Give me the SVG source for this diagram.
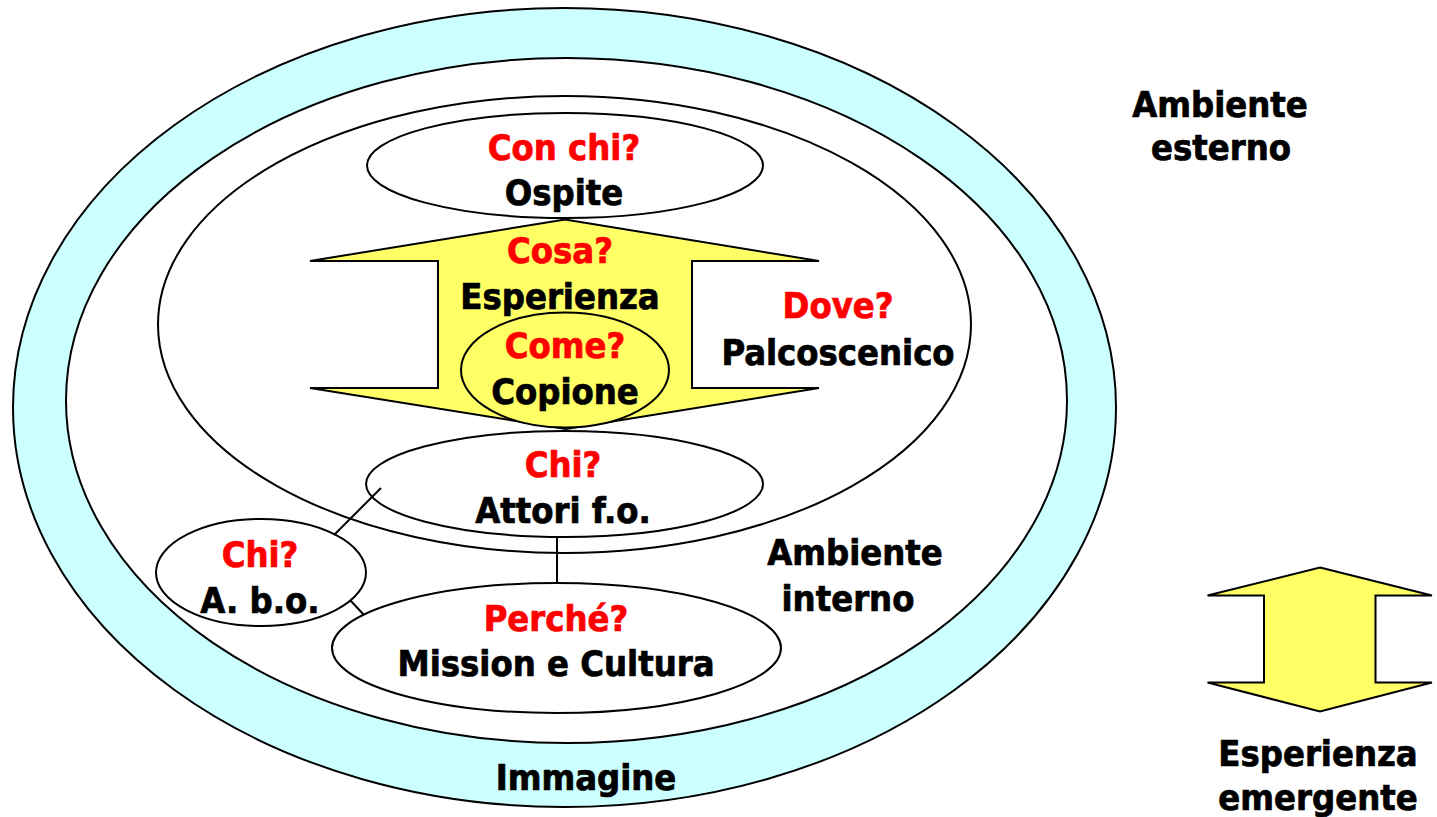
<svg xmlns="http://www.w3.org/2000/svg" width="1437" height="817" viewBox="0 0 1437 817">
<style>
.ln{stroke:#000;stroke-width:2;}
.w{fill:#fff;}
.y{fill:#FFFF66;}
text{font-family:"DejaVu Sans Condensed","DejaVu Sans","Liberation Sans",sans-serif;font-stretch:condensed;font-weight:bold;font-size:36px;text-anchor:middle;fill:#000;stroke:#000;stroke-width:0.7px;}
text.q{fill:#FF0000;stroke:#FF0000;}
</style>
<rect width="1437" height="817" fill="#fff"/>
<g id="ring">
<ellipse cx="564.5" cy="407.5" rx="551.5" ry="399.5" fill="#CCFFFF" class="ln"/>
<ellipse cx="566.5" cy="400.5" rx="500.5" ry="342.5" class="ln w"/>
<text x="586" y="790">Immagine</text>
</g>
<g id="palcoscenico">
<ellipse cx="564.5" cy="324.5" rx="406.5" ry="228.5" class="ln w"/>
<text class="q" x="838" y="318">Dove?</text>
<text x="838" y="365">Palcoscenico</text>
</g>
<g id="ospite">
<ellipse cx="565" cy="165.5" rx="198" ry="52.5" class="ln w"/>
<text class="q" x="564" y="160">Con chi?</text>
<text x="564" y="205">Ospite</text>
</g>
<g id="esperienza">
<polygon points="565,219.5 819,261 692,261 692,388 819,388 566,429 310,388 438,388 438,261 310,261" class="ln y"/>
<text class="q" x="560" y="263">Cosa?</text>
<text x="560" y="309">Esperienza</text>
</g>
<g id="copione">
<ellipse cx="565" cy="370" rx="104" ry="57.5" class="ln y"/>
<text class="q" x="565" y="358">Come?</text>
<text x="565" y="404">Copione</text>
</g>
<g id="attori">
<ellipse cx="564.5" cy="484" rx="198.5" ry="53" class="ln w"/>
<text class="q" x="563" y="477">Chi?</text>
<text x="563" y="523">Attori f.o.</text>
</g>
<g id="abo">
<ellipse cx="261" cy="572.5" rx="105" ry="53.5" class="ln w"/>
<text class="q" x="260" y="567">Chi?</text>
<text x="260" y="613">A. b.o.</text>
</g>
<g id="mission">
<ellipse cx="556.5" cy="648" rx="224.5" ry="65" class="ln w"/>
<text class="q" x="556" y="631">Perché?</text>
<text x="556" y="676">Mission e Cultura</text>
</g>
<g id="connectors" class="ln" fill="none">
<line x1="381" y1="488" x2="334" y2="535"/>
<line x1="557" y1="537" x2="557" y2="583"/>
<line x1="350" y1="600" x2="364" y2="615"/>
</g>
<g id="ambiente-interno">
<text x="855" y="565">Ambiente</text>
<text x="848" y="611">interno</text>
</g>
<g id="ambiente-esterno">
<text x="1220" y="117">Ambiente</text>
<text x="1221" y="160">esterno</text>
</g>
<g id="emergente">
<polygon points="1320,567.5 1432,595.5 1375.5,595.5 1375.5,682.5 1432,682.5 1320,711.5 1207.5,682.5 1264,682.5 1264,595.5 1207.5,595.5" class="ln y"/>
<text x="1318" y="766">Esperienza</text>
<text x="1318" y="810">emergente</text>
</g>
</svg>
